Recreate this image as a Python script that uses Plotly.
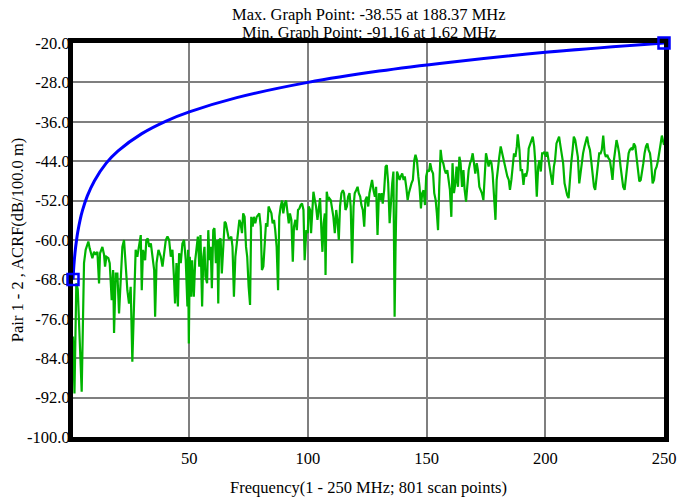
import plotly.graph_objects as go

# ---- data ----
limit_freq = [1, 1.25, 1.5, 2, 2.5, 3, 4, 5, 7, 10, 15, 20, 30, 40, 50, 70, 100, 130, 160, 200, 250]
limit_acrf = [-68.0, -66.0, -64.4, -61.9, -60.0, -58.4, -55.9, -54.0, -51.1, -48.0, -44.4, -41.9,
              -38.4, -35.9, -34.0, -31.1, -28.0, -25.7, -23.9, -21.9, -20.0]

meas_freq = [
    1.0, 1.62, 2.4, 3.0, 4.66, 5.64, 6.34, 7.47, 8.03, 8.6, 9.16, 9.86, 10.56, 11.27, 11.97, 12.39,
    13.38, 14.08, 14.5, 15.06, 15.9, 16.47, 17.3, 17.9, 18.3, 19.0, 19.7, 20.4, 21.1, 21.8, 22.5,
    23.2, 23.9, 24.6, 25.3, 26.0, 26.7, 27.4, 28.1, 28.8, 29.55, 29.97, 30.5, 31.4, 31.9, 32.5,
    33.1, 33.8, 34.5, 35.2, 35.6, 36.2, 37.0, 38.0, 38.7, 39.4, 40.1, 40.8, 41.5, 42.2, 42.9,
    43.6, 44.0, 44.6, 45.2, 45.7, 46.4, 47.1, 47.8, 48.5, 49.2, 49.45,
    49.8, 50.2, 50.8, 51.2, 51.9, 52.5, 53.0, 53.6, 54.2, 54.7, 55.4, 55.9, 56.4, 56.8, 57.5,
    58.0, 58.5, 59.0, 59.5, 60.1, 60.6, 61.2, 61.8, 62.2, 62.6, 63.2, 63.7, 64.3, 64.9, 65.4,
    66.0, 66.6, 67.1, 67.7, 68.2, 68.8, 69.4, 69.9, 70.5, 71.1, 71.6, 72.2, 72.7, 73.3, 73.9,
    74.4, 75.0, 75.6, 76.1, 76.7, 77.2, 77.8, 78.4, 78.9, 79.5, 80.1, 80.6, 81.2, 81.7, 82.3,
    82.9, 83.4, 84.0, 84.6, 85.1, 85.7, 86.2, 86.8, 87.4, 87.9, 88.5, 89.1, 89.6, 90.2, 90.8,
    91.3, 91.9, 92.4, 93.0, 93.6, 94.1, 94.7, 95.3, 95.8, 96.4, 96.9, 97.5, 98.1, 98.6,
    99.3, 99.9, 100.3, 100.9, 101.3, 101.7, 102.3, 102.9, 103.4, 104.0, 104.5, 105.1, 105.7,
    106.1, 106.6, 107.1, 107.4, 107.9, 108.5, 109.0, 109.6, 110.2, 110.7, 111.3, 111.9, 112.4,
    113.0, 113.5, 114.1, 114.7, 115.2, 115.8, 116.4, 116.9, 117.5, 118.0, 118.6, 119.2, 119.7,
    120.3, 120.9, 121.4, 122.0, 122.5, 123.1, 123.7, 124.2, 124.8, 125.4, 125.9, 126.5, 127.0,
    127.6, 128.2, 128.7, 129.3, 129.9, 130.4, 131.0, 131.5, 132.1, 132.7, 133.2, 133.8, 134.4,
    134.9, 135.5, 136.0, 136.5, 136.9, 137.5, 138.0, 138.6, 139.1, 139.7, 140.3, 140.8, 141.4,
    142.0, 142.5, 143.1, 143.6, 144.2, 144.8, 145.3, 145.9, 146.5, 147.0, 147.6, 148.1, 148.7,
    149.3, 149.8,
    150.4, 151.0, 151.5, 152.1, 152.7, 153.2, 153.8, 154.3, 154.8, 155.3, 155.9, 156.4, 157.0,
    157.6, 158.1, 158.7, 159.3, 159.8, 160.4, 160.9, 161.5, 162.1, 162.6, 163.2, 163.8, 164.3,
    164.9, 165.5, 166.0, 166.6, 167.1, 167.7, 168.3, 168.8, 169.4, 170.0, 170.5, 171.1, 171.6,
    172.2, 172.8, 173.3, 173.9, 174.5, 175.0, 175.6, 176.1, 176.7, 177.3, 177.8, 178.4, 179.0,
    179.5, 180.1, 180.6, 181.2, 181.8, 182.3, 182.9, 183.5, 184.0, 184.6, 185.1, 185.7, 186.3,
    186.8, 187.4, 188.0, 188.37, 189.1, 189.6, 190.2, 190.8, 191.3, 191.9, 192.5, 193.0, 193.6,
    194.1, 194.7, 195.3, 195.8, 196.4, 197.0, 197.5, 198.1, 198.65,
    199.1, 199.6, 200.2, 200.8, 201.3, 201.9, 202.4, 203.0, 203.6, 204.1, 204.7, 205.3, 205.8,
    206.4, 206.9, 207.5, 208.1, 208.6, 209.2, 209.8, 210.3, 210.9, 211.5, 212.0, 212.6, 213.1,
    213.7, 214.3, 214.8, 215.4, 215.9, 216.5, 217.1, 217.6, 218.2, 218.8, 219.3, 219.9, 220.5,
    221.0, 221.6, 222.1, 222.7, 223.3, 223.8, 224.4, 225.0, 225.5, 226.1, 226.6, 227.2, 227.8,
    228.3, 228.9, 229.5, 230.0, 230.6, 231.1, 231.7, 232.3, 232.8, 233.4, 234.0, 234.5, 235.1,
    235.6, 236.2, 236.8, 237.3, 237.9, 238.5, 239.0, 239.6, 240.2, 240.7, 241.3, 241.8, 242.4,
    243.0, 243.5, 244.1, 244.6, 245.2, 245.8, 246.3, 246.9, 247.5, 248.0, 248.6, 249.1, 249.7,
    250.0,
]
meas_acrf = [
    -79.6, -91.16, -68.8, -70.0, -90.8, -64.7, -62.0, -60.3, -61.7, -62.7, -63.7, -62.4, -63.0,
    -62.4, -68.8, -62.7, -61.4, -63.0, -65.4, -63.4, -63.7, -64.7, -72.2, -66.1, -78.9, -66.8,
    -66.8, -74.9, -67.4, -61.4, -60.0, -66.1, -70.2, -72.9, -69.5, -84.7, -74.9, -62.0, -63.4,
    -61.4, -59.0, -70.2, -62.0, -64.1, -60.0, -59.7, -61.4, -60.7, -63.4, -66.1, -75.6, -64.7,
    -62.0, -63.4, -65.4, -62.0, -60.0, -59.3, -60.0, -63.4, -62.0, -68.1, -72.9, -64.7, -73.5,
    -62.7, -64.7, -60.7, -60.0, -64.1, -73.5, -62.0,
    -81.0, -63.4, -71.5, -64.1, -71.5, -64.1, -61.4, -59.3, -65.4, -59.0, -73.5, -63.4, -61.4,
    -67.4, -68.8, -58.0, -64.1, -61.4, -69.8, -58.0, -57.6, -64.7, -60.0, -72.9, -60.0, -59.7,
    -66.8, -60.7, -56.3, -56.6, -58.0, -59.7, -59.7, -59.3, -61.4, -71.5, -63.4, -61.4, -58.0,
    -55.9, -56.6, -58.6, -54.6, -55.3, -61.4, -63.4, -69.5, -73.2, -55.3, -57.3, -55.3, -56.6,
    -55.3, -54.9, -54.6, -57.3, -66.1, -65.4, -60.0, -56.6, -57.3, -53.2, -53.9, -54.6, -56.6,
    -55.9, -58.0, -61.4, -70.2, -55.3, -53.2, -52.0, -54.6, -52.6, -52.0, -54.9, -56.6, -54.6,
    -55.9, -64.4, -57.3, -55.9, -58.0, -53.9, -53.6, -52.9, -52.6, -53.9, -64.1,
    -58.0, -58.6, -53.2, -53.9, -58.6, -55.3, -50.2, -51.9, -53.2, -55.9, -53.2, -51.5, -58.6,
    -62.4, -56.6, -54.6, -67.1, -50.2, -51.9, -51.5, -51.9, -53.9, -55.3, -58.6, -53.9, -55.9,
    -60.0, -53.2, -50.5, -49.9, -50.5, -53.9, -53.2, -51.2, -50.5, -53.2, -64.7, -53.2, -50.5,
    -49.9, -49.2, -50.5, -51.2, -52.9, -53.9, -57.3, -51.9, -51.2, -53.2, -50.5, -48.5, -47.8,
    -49.9, -51.2, -49.2, -59.0, -50.5, -51.9, -50.5, -52.6, -49.9, -45.1, -44.8, -48.5, -56.6,
    -51.9, -48.5, -46.1, -75.6, -61.4, -46.1, -46.8, -47.8, -47.1, -46.5, -47.8, -47.1, -49.2,
    -51.9, -50.5, -49.2, -48.5, -47.8, -43.8, -42.7, -43.8, -47.1, -49.2, -53.6, -50.5, -49.9,
    -52.9, -47.1,
    -45.8, -46.1, -44.4, -45.8, -46.5, -50.5, -51.9, -54.6, -58.0, -49.2, -41.7, -43.8, -44.4,
    -45.8, -46.5, -45.8, -47.8, -49.8, -55.3, -44.4, -50.5, -48.5, -45.1, -49.2, -43.1, -44.4,
    -49.2, -45.8, -49.8, -52.2, -49.2, -45.8, -44.4, -43.8, -42.4, -44.4, -46.5, -44.4, -45.8,
    -49.2, -49.8, -50.5, -51.9, -45.1, -42.4, -43.8, -45.1, -43.8, -44.4, -46.5, -50.5, -55.9,
    -47.8, -44.4, -43.1, -41.0, -42.4, -43.1, -44.4, -46.5, -47.1, -47.8, -49.8, -47.8, -44.4,
    -42.4, -43.1, -41.0, -38.55, -41.7, -45.8, -45.8, -48.8, -46.5, -47.1, -45.8, -41.4, -40.4,
    -39.7, -39.0, -41.0, -44.4, -51.2, -45.1, -43.8, -46.1, -42.4,
    -42.4, -42.1, -43.1, -42.1, -43.8, -45.8, -46.5, -48.8, -45.1, -43.8, -40.4, -39.7, -39.0,
    -41.0, -42.4, -44.4, -48.5, -49.8, -50.9, -51.5, -47.8, -44.4, -41.7, -39.0, -39.7, -41.0,
    -43.1, -48.5, -46.5, -44.4, -42.4, -41.0, -39.7, -39.0, -40.7, -41.7, -43.8, -46.5, -49.2,
    -49.8, -47.1, -44.4, -42.4, -42.4, -41.7, -38.8, -42.4, -43.1, -42.7, -43.4, -43.8, -45.8,
    -47.8, -43.8, -41.0, -39.7, -41.0, -42.4, -45.1, -47.8, -49.2, -49.8, -47.1, -44.4, -42.4,
    -41.7, -41.4, -41.7, -40.4, -41.0, -43.8, -45.8, -48.1, -47.8, -46.5, -44.4, -42.4, -41.0,
    -40.4, -41.7, -42.4, -44.4, -48.5, -47.8, -45.8, -45.1, -43.8, -41.7, -40.4, -38.8, -40.4,
    -40.7,
]

x_ticks = [50, 100, 150, 200, 250]
y_ticks = [-100, -92, -84, -76, -68, -60, -52, -44, -36, -28, -20]
y_tick_text = ["%.1f" % v for v in y_ticks]
y_dark_grid = [-28, -44, -60, -76, -92]
x_dark_grid = [100]

title_lines = ["Max. Graph Point: -38.55 at 188.37 MHz", "Min. Graph Point: -91.16 at 1.62 MHz"]
x_title = "Frequency(1 - 250 MHz; 801 scan points)"
y_title = "Pair 1 - 2 , ACRF(dB/100.0 m)"

FONT = "Liberation Serif"
FS = 16.5
tfont = dict(family=FONT, size=FS, color="black")

fig = go.Figure()
fig.add_trace(go.Scatter(x=meas_freq, y=meas_acrf, mode="lines",
                         line=dict(color="#00B400", width=2.2), showlegend=False))
fig.add_trace(go.Scatter(x=limit_freq, y=limit_acrf, mode="lines",
                         line=dict(color="#0000FF", width=3, shape="spline"), showlegend=False))
fig.add_trace(go.Scatter(x=[limit_freq[0], limit_freq[-1]], y=[limit_acrf[0], limit_acrf[-1]],
                         mode="markers", cliponaxis=False,
                         marker=dict(symbol="square-open", size=11, color="#0000FF",
                                     line=dict(width=2.5, color="#0000FF")),
                         showlegend=False))

shapes = []
for v in y_dark_grid:
    shapes.append(dict(type="line", xref="paper", x0=0, x1=1, yref="y", y0=v, y1=v,
                       line=dict(color="black", width=1.2), layer="below"))
for v in x_dark_grid:
    shapes.append(dict(type="line", yref="paper", y0=0, y1=1, xref="x", x0=v, x1=v,
                       line=dict(color="black", width=1.2), layer="below"))

annotations = [
    dict(text=title_lines[0], xref="paper", yref="paper", x=0.5, y=1.0736, showarrow=False,
         xanchor="center", yanchor="middle", font=tfont),
    dict(text=title_lines[1], xref="paper", yref="paper", x=0.5, y=1.0254, showarrow=False,
         xanchor="center", yanchor="middle", font=tfont),
]

fig.update_layout(
    width=677, height=501,
    margin=dict(l=73, r=13, t=43, b=64, autoexpand=False),
    paper_bgcolor="white", plot_bgcolor="white",
    font=tfont,
    shapes=shapes, annotations=annotations,
    xaxis=dict(range=[1, 250], tickvals=x_ticks, ticktext=[str(v) for v in x_ticks],
               tickfont=tfont, showline=True, linecolor="black",
               linewidth=5, mirror=True, showgrid=True, gridcolor="#7f7f7f", gridwidth=1.5,
               zeroline=False, ticks="", layer="below traces", automargin=False,
               ticklabelstandoff=2,
               title=dict(text=x_title, standoff=16, font=tfont)),
    yaxis=dict(range=[-100, -20], tickvals=y_ticks, ticktext=y_tick_text, tickfont=tfont,
               showline=True, linecolor="black", linewidth=5, mirror=True, showgrid=True,
               gridcolor="#7f7f7f", gridwidth=1.5, zeroline=False, ticks="",
               layer="below traces", automargin=False, ticklabelstandoff=-5,
               title=dict(text=y_title, standoff=1, font=tfont)),
)

fig.write_html("out.html", config={"displayModeBar": False},
               post_script="document.body.style.margin='0';document.body.style.padding='0';")
